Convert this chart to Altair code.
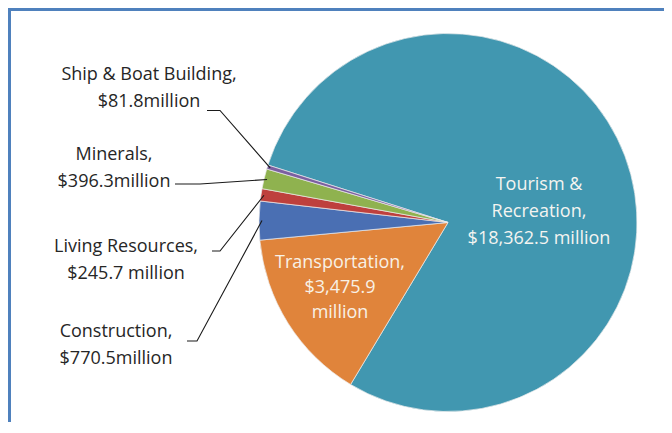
import math
import altair as alt
import pandas as pd

# ---- data ----
sectors = ["Tourism & Recreation", "Transportation", "Construction",
           "Living Resources", "Minerals", "Ship & Boat Building"]
values = [18362.5, 3475.9, 770.5, 245.7, 396.3, 81.8]
label_text = [
    "Tourism &\nRecreation,\n$18,362.5 million",
    "Transportation,\n$3,475.9\nmillion",
    "Construction,\n$770.5million",
    "Living Resources,\n$245.7 million",
    "Minerals,\n$396.3million",
    "Ship & Boat Building,\n$81.8million",
]
colors = ["#4197B0", "#E0843B", "#4A6FB3", "#BE403D", "#8FB24F", "#7B5FA0"]

# ---- layout (pixels, chart coordinates) ----
W, H = 656, 414
CX, CY, R = 440, 214.5, 189
START_DEG = 287.7  # first slice starts here, clockwise from 12 o'clock
label_pos = {  # centre x, first-line y of each text block
    "Tourism & Recreation": (531, 177),
    "Transportation": (332, 255),
    "Construction": (108, 324),
    "Living Resources": (118, 239),
    "Minerals": (106, 147),
    "Ship & Boat Building": (141, 67),
}
label_color = {"Tourism & Recreation": "#F4F4F0", "Transportation": "#F8F1E6"}
leader_hook = {  # horizontal stub next to the label: (x0, x1, y)
    "Construction": (179, 189, 333),
    "Living Resources": (204, 212, 243),
    "Minerals": (167, 192, 176),
    "Ship & Boat Building": (199, 212, 102.5),
}

total = sum(values)
start = math.radians(START_DEG)

df = pd.DataFrame({"sector": sectors, "value": values, "idx": range(len(sectors))})

lab = pd.DataFrame({
    "sector": sectors,
    "text": label_text,
    "lx": [label_pos[s][0] for s in sectors],
    "ly": [label_pos[s][1] for s in sectors],
    "tcolor": [label_color.get(s, "#262626") for s in sectors],
})

rows = []
cum = 0.0
for s, v in zip(sectors, values):
    a0 = start + cum / total * 2 * math.pi
    cum += v
    a1 = start + cum / total * 2 * math.pi
    if s in leader_hook:
        am = (a0 + a1) / 2
        ex = CX + (R - 3) * math.sin(am)
        ey = CY - (R - 3) * math.cos(am)
        x0, x1, y = leader_hook[s]
        rows += [
            {"sector": s, "k": 0, "px": x0, "py": y},
            {"sector": s, "k": 1, "px": x1, "py": y},
            {"sector": s, "k": 2, "px": ex, "py": ey},
        ]
lead = pd.DataFrame(rows)

xs = alt.Scale(domain=[0, W], range=[0, W])
ys = alt.Scale(domain=[0, H], range=[0, H])

pie = alt.Chart(df).mark_arc(radius=R, stroke="#EDEDED", strokeWidth=0.7).encode(
    theta=alt.Theta("value:Q", stack=True,
                    scale=alt.Scale(range=[start, start + 2 * math.pi])),
    order=alt.Order("idx:Q"),
    color=alt.Color("sector:N", scale=alt.Scale(domain=sectors, range=colors), legend=None),
    x=alt.value(CX),
    y=alt.value(CY),
)

lines = alt.Chart(lead).mark_line(color="#1a1a1a", strokeWidth=1.1).encode(
    x=alt.X("px:Q", scale=xs, axis=None),
    y=alt.Y("py:Q", scale=ys, axis=None),
    detail="sector:N",
    order="k:Q",
)

def text_layer(names, lh):
    sub = lab[lab["sector"].isin(names)]
    return alt.Chart(sub).mark_text(
        font="Open Sans", fontSize=18, lineBreak="\n", lineHeight=lh,
        align="center", baseline="middle",
    ).encode(
        x=alt.X("lx:Q", scale=xs, axis=None),
        y=alt.Y("ly:Q", scale=ys, axis=None),
        text="text:N",
        color=alt.Color("tcolor:N", scale=None),
    )

texts_main = text_layer([s for s in sectors if s != "Transportation"], 27)
texts_tr = text_layer(["Transportation"], 25)

border_left = alt.Chart(df).mark_rule(color="#4F81BD", strokeWidth=3).encode(
    x=alt.value(1.5), y=alt.value(0), y2=alt.value(H))
border_top = alt.Chart(df).mark_rule(color="#4F81BD", strokeWidth=3).encode(
    y=alt.value(1.5), x=alt.value(0), x2=alt.value(W))

chart = alt.layer(pie, lines, texts_main, texts_tr, border_left, border_top).properties(
    width=W, height=H, padding=0, autosize=alt.AutoSizeParams(type="none"),
    background="white",
).configure_view(stroke=None)

chart.save("out.html", embed_options={"renderer": "svg", "actions": False})
